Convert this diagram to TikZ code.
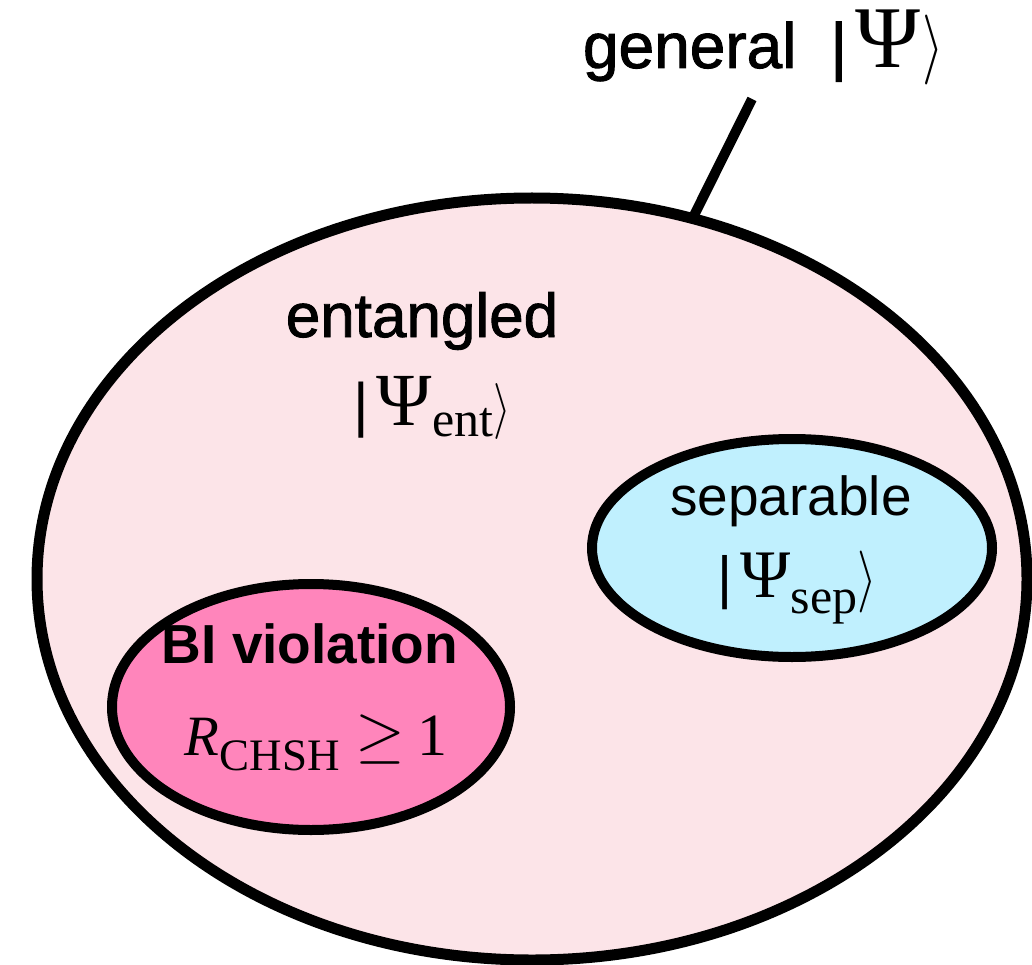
\documentclass[tikz,border=0pt]{standalone}
\usepackage{graphicx}
\usepackage{fontspec}
\newfontfamily\hsf{Liberation Sans}
\newfontfamily\hsfm[FakeBold=1.5]{Liberation Sans}
\newfontfamily\tms{Liberation Serif}
\usetikzlibrary{shapes.geometric}
\newcommand\fsz[1]{\fontsize{#1}{#1}\selectfont}
\newcommand\bigket[2]{\scalebox{#1}[#2]{\normalsize$\rangle$}}
\newcommand\biggeq[1]{\scalebox{#1}{\normalsize$\geq$}}
\definecolor{bigpink}{RGB}{252,228,232}
\definecolor{hotpink}{RGB}{255,133,187}
\definecolor{skyblue}{RGB}{192,240,254}
\tikzset{
  setell/.style={ellipse, draw=black, inner sep=0pt, outer sep=0pt},
  txt/.style={inner sep=0pt, outer sep=0pt, anchor=base},
  leader/.style={line width=10pt, line cap=butt}
}
\begin{document}
\begin{tikzpicture}[x=1pt,y=-1pt]
\useasboundingbox (0,0) rectangle (1032,965);
% outer set
\node[setell, fill=bigpink, line width=11pt, minimum width=990pt, minimum height=762pt] (big) at (532,579) {};
% inner sets
\node[setell, fill=hotpink, line width=10pt, minimum width=398pt, minimum height=246pt] (bi) at (311,707) {};
\node[setell, fill=skyblue, line width=10pt, minimum width=400pt, minimum height=218pt] (sep) at (792,548) {};
% label of the outer set
\node[txt, anchor=base west] (gen) at (583,68) {{\hsfm\fsz{64}general\hspace{34pt}|}\hspace{8pt}{\tms\fsz{88}Ψ}\hspace{2pt}\bigket{5.5}{7}};
\coordinate (lt) at (752,99);
\draw[leader] (big.66.5) -- (lt);
% entangled
\node[txt] (entw) at (422,337) {\hsfm\fsz{62}entangled};
\node[txt] (ents) at (432,425) {{\hsf\fsz{60}|}\hspace{8pt}{\tms\fsz{75}Ψ\raisebox{-11pt}{\fsz{50}ent}}\bigket{4.5}{5.6}};
% separable
\node[txt] (sepw) at (791,515) {\hsf\fsz{55}separable};
\node[txt] (seps) at (797,597) {{\hsf\fsz{58}|}\hspace{8pt}{\tms\fsz{68}Ψ\raisebox{-16pt}{\fsz{50}sep}}\bigket{5}{6.2}};
% BI violation
\node[txt] (biw) at (310,663) {\hsf\bfseries\fsz{55}BI violation};
\node[txt] (bis) at (316,755) {{\tms\fsz{57}\itshape R}\raisebox{-15pt}{\tms\fsz{45}CHSH}\hspace{16pt}\biggeq{6.4}\hspace{12pt}{\tms\fsz{60}1}};
\end{tikzpicture}
\end{document}
